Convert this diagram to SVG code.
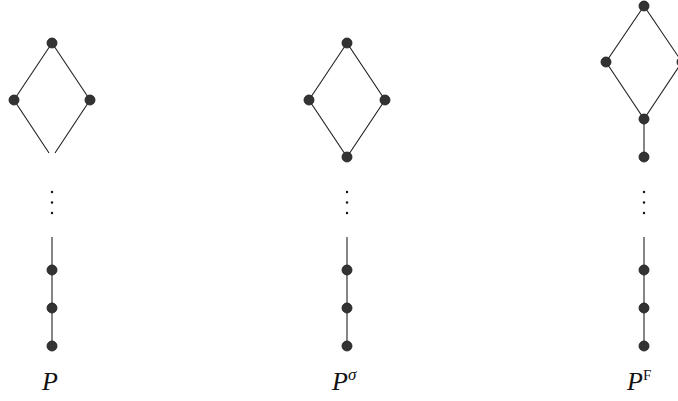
<svg xmlns="http://www.w3.org/2000/svg" width="678" height="401" viewBox="0 0 678 401">
<style>
.e{stroke:#222;stroke-width:1.1;fill:none}
.n{fill:#333;stroke:#1a1a1a;stroke-width:0.8}
.d{fill:#111}
.t{font-family:"Liberation Serif","DejaVu Serif",serif;font-style:italic;font-size:26px;fill:#111}
.s{font-family:"Liberation Serif","DejaVu Serif",serif;font-size:15px;font-style:normal;fill:#111}
.g{font-size:17px}
</style>
<rect width="678" height="401" fill="#fff"/>
<g id="connectors">
<path class="e" d="M52,43L14,100L49,153M52,43L90,100L55,153"/>
<path class="e" d="M52,237V346"/>
<path class="e" d="M347,43L309,100L347,157L385,100Z"/>
<path class="e" d="M347,237V346"/>
<path class="e" d="M644,6L606,62L644,119L682,62Z"/>
<path class="e" d="M644,119V157"/>
<path class="e" d="M644,237V346"/>
</g>
<g id="P">
<circle class="n" cx="52" cy="43" r="5"/>
<circle class="n" cx="14" cy="100" r="5"/>
<circle class="n" cx="90" cy="100" r="5"/>
<circle class="d" cx="52" cy="192" r="1.2"/>
<circle class="d" cx="52" cy="202.5" r="1.2"/>
<circle class="d" cx="52" cy="213" r="1.2"/>
<circle class="n" cx="52" cy="270" r="5"/>
<circle class="n" cx="52" cy="308" r="5"/>
<circle class="n" cx="52" cy="346" r="5"/>
<text class="t" x="42" y="390">P</text>
</g>
<g id="Psigma">
<circle class="n" cx="347" cy="43" r="5"/>
<circle class="n" cx="309" cy="100" r="5"/>
<circle class="n" cx="385" cy="100" r="5"/>
<circle class="n" cx="347" cy="157" r="5"/>
<circle class="d" cx="347" cy="192" r="1.2"/>
<circle class="d" cx="347" cy="202.5" r="1.2"/>
<circle class="d" cx="347" cy="213" r="1.2"/>
<circle class="n" cx="347" cy="270" r="5"/>
<circle class="n" cx="347" cy="308" r="5"/>
<circle class="n" cx="347" cy="346" r="5"/>
<text class="t" x="332" y="390">P<tspan class="g" dy="-10">σ</tspan></text>
</g>
<g id="PF">
<circle class="n" cx="644" cy="6" r="5"/>
<circle class="n" cx="606" cy="62" r="5"/>
<circle class="n" cx="682" cy="62" r="5"/>
<circle class="n" cx="644" cy="119" r="5"/>
<circle class="n" cx="644" cy="157" r="5"/>
<circle class="d" cx="644" cy="192" r="1.2"/>
<circle class="d" cx="644" cy="202.5" r="1.2"/>
<circle class="d" cx="644" cy="213" r="1.2"/>
<circle class="n" cx="644" cy="270" r="5"/>
<circle class="n" cx="644" cy="308" r="5"/>
<circle class="n" cx="644" cy="346" r="5"/>
<text class="t" x="627" y="390">P<tspan class="s" dy="-10">F</tspan></text>
</g>
</svg>
